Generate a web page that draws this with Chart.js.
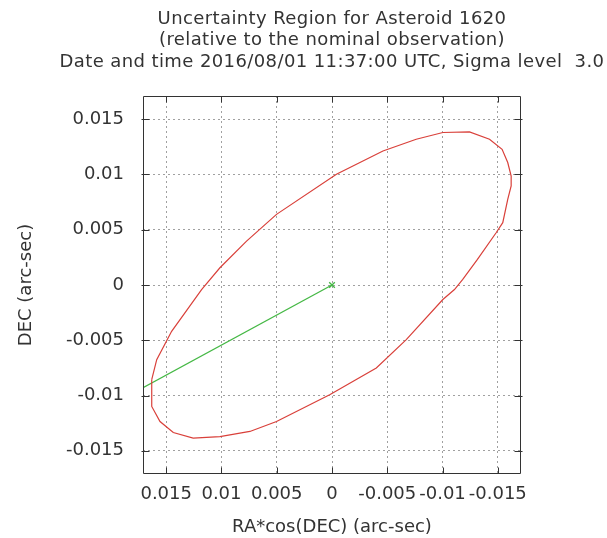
<!DOCTYPE html>
<html>
<head>
<meta charset="utf-8">
<script src="https://cdn.jsdelivr.net/npm/chart.js@4/dist/chart.umd.min.js"></script>
<style>
  html, body { margin: 0; padding: 0; background: #ffffff; }
  #wrap { width: 607px; height: 538px; }
</style>
</head>
<body>
<div id="wrap"><canvas id="c" width="607" height="538"></canvas></div>
<script>
// ---- Data ----
const titleLines = [
  "Uncertainty Region for Asteroid 1620",
  "(relative to the nominal observation)",
  "Date and time 2016/08/01 11:37:00 UTC, Sigma level  3.0"
];
const xAxisTitle = "RA*cos(DEC) (arc-sec)";
const yAxisTitle = "DEC (arc-sec)";

const xTicks = [0.015, 0.01, 0.005, 0, -0.005, -0.01, -0.015];
const xTickLabels = ["0.015", "0.01", "0.005", "0", "-0.005", "-0.01", "-0.015"];
const yTicks = [0.015, 0.01, 0.005, 0, -0.005, -0.01, -0.015];
const yTickLabels = ["0.015", "0.01", "0.005", "0", "-0.005", "-0.01", "-0.015"];

const xRange = [-0.0171, 0.0171];
const yRange = [-0.0171, 0.0171];

// uncertainty ellipse (RA*cos(DEC), DEC) in arc-sec
const ellipseRA = [
  0.01631, 0.01586, 0.01451, 0.01180, 0.01014, 0.00773, 0.00502, -0.00040,
  -0.00461, -0.00762, -0.01003, -0.01244, -0.01425, -0.01539, -0.01590, -0.01621,
  -0.01621, -0.01590, -0.01545, -0.01485, -0.01316, -0.01183, -0.01108, -0.01003,
  -0.00672, -0.00401, 0.00021, 0.00201, 0.00502, 0.00743, 0.01014, 0.01256,
  0.01436, 0.01556, 0.01631, 0.01631
];
const ellipseDEC = [
  -0.00857, -0.00675, -0.00419, -0.00041, 0.00156, 0.00397, 0.00639, 0.01002,
  0.01213, 0.01319, 0.01380, 0.01385, 0.01319, 0.01228, 0.01108, 0.00986,
  0.00896, 0.00775, 0.00564, 0.00473, 0.00231, 0.00050, -0.00041, -0.00131,
  -0.00494, -0.00751, -0.00993, -0.01083, -0.01235, -0.01325, -0.01371, -0.01385,
  -0.01335, -0.01235, -0.01099, -0.00857
];

// nominal point and direction line (green)
const lineRA = [0, 0.0171];
const lineDEC = [0, -0.0093];

// ---- Build chart ----
Chart.defaults.font.family = "'DejaVu Sans', sans-serif";
Chart.defaults.font.size = 18;
Chart.defaults.color = '#333333';

const ellipsePts = ellipseRA.map((x, i) => ({ x: x, y: ellipseDEC[i] }));
const linePts = lineRA.map((x, i) => ({ x: x, y: lineDEC[i] }));

// Title drawn centred over the plot area (gnuplot style), kept as real text
const titlePlugin = {
  id: 'plotTitle',
  afterDraw(chart) {
    const { ctx, chartArea: a } = chart;
    const cx = (a.left + a.right) / 2;
    const baselines = [24, 45.3, 66.6];
    ctx.save();
    ctx.fillStyle = '#333333';
    ctx.font = "18px 'DejaVu Sans', sans-serif";
    if ('letterSpacing' in ctx) ctx.letterSpacing = '0.4px';
    ctx.textAlign = 'center';
    ctx.textBaseline = 'alphabetic';
    titleLines.forEach((t, i) => ctx.fillText(t, cx, baselines[i]));
    ctx.restore();
  }
};

const framePlugin = {
  id: 'frame',
  afterDatasetsDraw(chart) {
    const { ctx, chartArea: a, scales } = chart;
    const xs = scales.x, ys = scales.y;
    const L = Math.round(a.left) + 0.5, R = Math.round(a.right) - 0.5;
    const T = Math.round(a.top) + 0.5, B = Math.round(a.bottom) - 0.5;
    ctx.save();
    ctx.strokeStyle = '#333333';
    ctx.lineWidth = 1;
    ctx.beginPath();
    ctx.rect(L, T, R - L, B - T);
    ctx.stroke();
    const tl = 6;
    ctx.beginPath();
    xTicks.forEach(v => {
      const p = Math.round(xs.getPixelForValue(v)) + 0.5;
      ctx.moveTo(p, B); ctx.lineTo(p, B - tl);
      ctx.moveTo(p, T); ctx.lineTo(p, T + tl);
    });
    yTicks.forEach(v => {
      const p = Math.round(ys.getPixelForValue(v)) + 0.5;
      ctx.moveTo(L - 2, p); ctx.lineTo(L + tl, p);
      ctx.moveTo(R + 2, p); ctx.lineTo(R - tl, p);
    });
    ctx.stroke();
    ctx.restore();
  }
};

new Chart(document.getElementById('c'), {
  type: 'scatter',
  data: {
    datasets: [
      {
        data: ellipsePts,
        showLine: true,
        borderColor: '#d9403a',
        borderWidth: 1.2,
        pointRadius: 0,
        tension: 0,
        fill: false
      },
      {
        data: linePts,
        showLine: true,
        borderColor: '#45b845',
        borderWidth: 1.3,
        pointStyle: 'crossRot',
        pointRadius: [4, 0],
        pointBorderColor: '#45b845',
        pointBorderWidth: 1.3,
        tension: 0,
        fill: false
      }
    ]
  },
  options: {
    responsive: false,
    animation: false,
    events: [],
    layout: { padding: { left: 0, right: 86, top: 96, bottom: 0 } },
    plugins: {
      legend: { display: false },
      tooltip: { enabled: false },
      title: { display: false }
    },
    scales: {
      x: {
        type: 'linear',
        reverse: true,
        min: xRange[0],
        max: xRange[1],
        afterBuildTicks: s => { s.ticks = xTicks.map(v => ({ value: v })); },
        afterFit: s => { s.height = 64; },
        ticks: {
          autoSkip: false,
          maxRotation: 0,
          minRotation: 0,
          padding: 10,
          includeBounds: false,
          callback: (v) => { const i = xTicks.indexOf(v); return i >= 0 ? xTickLabels[i] : ''; }
        },
        grid: { color: '#a0a0a0', lineWidth: 1, drawTicks: false },
        border: { display: false, dash: [2, 3] },
        title: { display: true, text: xAxisTitle, padding: { top: 0, bottom: 0 }, font: { size: 18 } }
      },
      y: {
        type: 'linear',
        min: yRange[0],
        max: yRange[1],
        afterBuildTicks: s => { s.ticks = yTicks.map(v => ({ value: v })); },
        afterFit: s => { s.width = 143; },
        ticks: {
          autoSkip: false,
          padding: 19,
          includeBounds: false,
          callback: (v) => { const i = yTicks.indexOf(v); return i >= 0 ? yTickLabels[i] : ''; }
        },
        grid: { color: '#a0a0a0', lineWidth: 1, drawTicks: false },
        border: { display: false, dash: [2, 3] },
        title: { display: true, text: yAxisTitle, padding: { top: 16, bottom: 0 }, font: { size: 18 } }
      }
    }
  },
  plugins: [framePlugin, titlePlugin]
});
</script>
</body>
</html>
